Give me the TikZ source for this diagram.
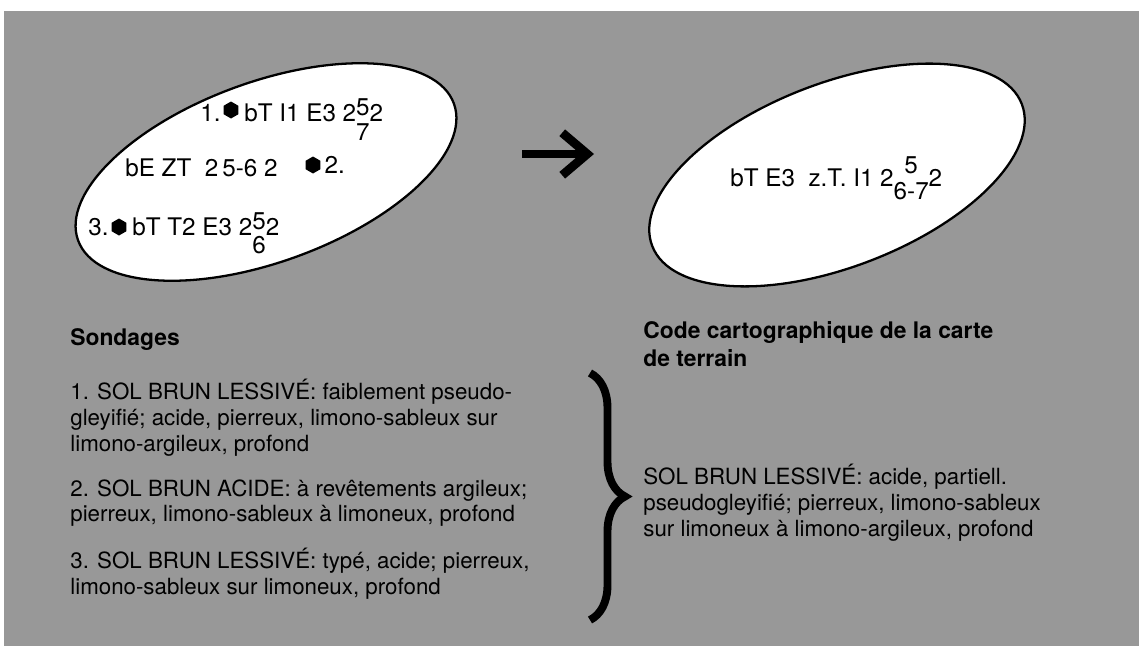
\documentclass[tikz,border=0pt]{standalone}
\usepackage{fontspec}
\setmainfont{TeX Gyre Heros}
\usepackage{tikz}
\usetikzlibrary{shapes.geometric, arrows.meta, positioning, decorations.pathreplacing}
\definecolor{scangray}{RGB}{152,152,152}
% stacked digits of the code: raise, row gap, top, bottom
\newcommand{\stk}[4]{\raisebox{#1}{\begin{tabular}[t]{@{}c@{}}#3\\[#2]#4\end{tabular}}}

\begin{document}
\begin{tikzpicture}[x=0.02cm, y=-0.02cm,
  lbl/.style={inner sep=0pt, font=\fontsize{13.8}{14.6}\selectfont},
  txt/.style={inner sep=0pt, align=left, anchor=north west, font=\fontsize{12.7}{14.6}\selectfont},
  titre/.style={inner sep=0pt, align=left, font=\fontsize{13}{16}\selectfont\bfseries},
  zone/.style={ellipse, draw=black, line width=1.3pt, fill=white, inner sep=0pt},
  hexa/.style={regular polygon, regular polygon sides=6, shape border rotate=30, fill=black, inner sep=0pt, minimum size=0.34cm}]
  \useasboundingbox (0,0) rectangle (1139,646);
  % grey background of the scan
  \fill[scangray] (4,11) rectangle (1139,646);

  % the two map units
  \node[zone, rotate=20, minimum width=8cm, minimum height=3.6cm] (zoneG) at (266,172) {};
  \node[zone, rotate=21, minimum width=7.92cm, minimum height=3.68cm] (zoneD) at (837,175) {};

  % sondages in the left unit
  \node[lbl, anchor=base west] (n1) at (200,121) {1.};
  \node[hexa] (h1) at (231,110) {};
  \node[lbl, anchor=base west, xshift=3pt] (c1) at (h1.east |- n1.base) {bT I1 E3 2\stk{3.4pt}{0pt}{5}{7}2};

  \node[lbl, anchor=base west] (c2) at (125,176) {bE ZT\ \ 2\,5-6 2};
  \node[hexa] (h2) at (313,165) {};
  \node[lbl, right=2pt of h2] (n2) {2.};

  \node[lbl, anchor=base west] (n3) at (88,235) {3.};
  \node[hexa] (h3) at (119,227) {};
  \node[lbl, anchor=base west, xshift=3pt] (c3) at (h3.east |- n3.base) {bT T2 E3 2\stk{3.2pt}{-1pt}{5}{6}2};

  % code of the field map
  \node[lbl, anchor=base west] (cD) at (730,186) {bT E3\ \ z.T. I1 2\stk{7.4pt}{0.4pt}{5}{6-7}2};

  % arrow between the units
  \coordinate (flD) at (522,154);
  \coordinate (flF) at (594,154);
  \draw[line width=5pt, -{Straight Barb[length=0.5cm, width=0.85cm, line join=miter]}] (flD) -- (flF);

  % legend, left
  \node[titre, anchor=base west] (sond) at (70,345) {Sondages};
  \node[txt] (s1) at (70,379) {1. SOL BRUN LESSIVÉ: faiblement pseudo-\\gleyifié; acide, pierreux, limono-sableux sur\\limono-argileux, profond};
  \node[txt] (s2) at (70,479) {2. SOL BRUN ACIDE: à revêtements argileux;\\pierreux, limono-sableux à limoneux, profond};
  \node[txt] (s3) at (70,548) {3. SOL BRUN LESSIVÉ: typé, acide; pierreux,\\limono-sableux sur limoneux, profond};

  % brace
  \coordinate (acH) at (590,373);
  \coordinate (acB) at (590,620);
  \draw[line width=4.5pt, decorate, decoration={brace, amplitude=0.7cm}] (acH) -- (acB);

  % legend, right
  \node[titre, anchor=north west] (code) at (643,321) {Code cartographique de la carte\\de terrain};
  \node[txt] (unite) at (643,464) {SOL BRUN LESSIVÉ: acide, partiell.\\pseudogleyifié; pierreux, limono-sableux\\sur limoneux à limono-argileux, profond};
\end{tikzpicture}
\end{document}
